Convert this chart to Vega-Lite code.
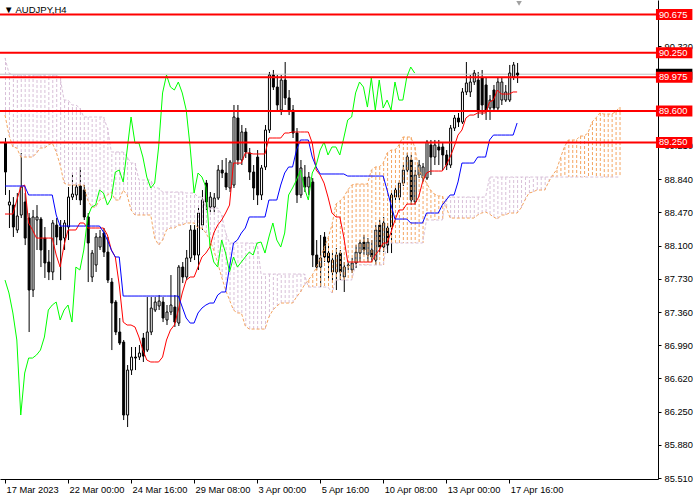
{
  "$schema": "https://vega.github.io/schema/vega-lite/v6.json",
  "width": 658,
  "height": 479,
  "autosize": {"type": "none"},
  "padding": {"left": 0, "top": 0, "right": 42, "bottom": 21},
  "background": "white",
  "title": {
    "text": "▼ AUDJPY,H4",
    "anchor": "start",
    "frame": "group",
    "offset": -14,
    "dx": 4,
    "font": "Liberation Sans",
    "fontSize": 9.5,
    "fontWeight": "normal",
    "color": "#000000"
  },
  "config": {
    "view": {"stroke": null},
    "axis": {
      "labelFont": "Liberation Sans",
      "labelFontSize": 9.3,
      "labelColor": "#000000",
      "domainColor": "#000000",
      "tickColor": "#000000",
      "grid": false
    }
  },
  "resolve": {"axis": {"x": "independent", "y": "independent"}},
  "datasets": {
    "bars": [
      {"i":0,"o":89.243,"h":89.299,"l":88.664,"c":88.920,"tk":88.452,"kj":88.764},
      {"i":1,"o":88.552,"h":88.719,"l":88.296,"c":88.586,"tk":88.452,"kj":88.764},
      {"i":2,"o":88.552,"h":88.641,"l":88.196,"c":88.307,"tk":88.452,"kj":88.764},
      {"i":3,"o":88.274,"h":88.686,"l":88.240,"c":88.430,"tk":88.608,"kj":88.764},
      {"i":4,"o":88.441,"h":89.132,"l":88.407,"c":88.753,"tk":88.753,"kj":88.764},
      {"i":5,"o":88.586,"h":88.686,"l":88.106,"c":88.184,"tk":88.775,"kj":88.764},
      {"i":6,"o":88.407,"h":88.463,"l":87.137,"c":87.605,"tk":88.352,"kj":88.664},
      {"i":7,"o":87.605,"h":88.497,"l":87.527,"c":88.419,"tk":88.274,"kj":88.664},
      {"i":8,"o":88.385,"h":88.552,"l":88.051,"c":88.419,"tk":88.184,"kj":88.664},
      {"i":9,"o":88.396,"h":88.419,"l":87.861,"c":88.051,"tk":88.184,"kj":88.664},
      {"i":10,"o":88.184,"h":88.307,"l":87.739,"c":87.906,"tk":88.184,"kj":88.664},
      {"i":11,"o":87.917,"h":88.051,"l":87.716,"c":87.806,"tk":88.184,"kj":88.664},
      {"i":12,"o":87.806,"h":88.385,"l":87.716,"c":88.352,"tk":88.184,"kj":88.664},
      {"i":13,"o":88.329,"h":88.407,"l":88.106,"c":88.196,"tk":87.995,"kj":88.441},
      {"i":14,"o":88.307,"h":88.385,"l":87.716,"c":88.162,"tk":87.861,"kj":88.318},
      {"i":15,"o":88.184,"h":88.385,"l":88.051,"c":88.352,"tk":88.106,"kj":88.318},
      {"i":16,"o":88.307,"h":88.753,"l":88.162,"c":88.641,"tk":88.274,"kj":88.318},
      {"i":17,"o":88.641,"h":88.909,"l":88.608,"c":88.675,"tk":88.274,"kj":88.318},
      {"i":18,"o":88.664,"h":88.797,"l":88.608,"c":88.753,"tk":88.274,"kj":88.318},
      {"i":19,"o":88.764,"h":88.976,"l":88.552,"c":88.608,"tk":88.352,"kj":88.318},
      {"i":20,"o":88.719,"h":88.775,"l":88.385,"c":88.419,"tk":88.352,"kj":88.318},
      {"i":21,"o":88.419,"h":88.463,"l":87.694,"c":88.129,"tk":88.296,"kj":88.318},
      {"i":22,"o":87.750,"h":88.051,"l":87.694,"c":88.017,"tk":88.296,"kj":88.318},
      {"i":23,"o":87.884,"h":88.240,"l":87.806,"c":88.196,"tk":88.296,"kj":88.318},
      {"i":24,"o":88.084,"h":88.274,"l":88.051,"c":88.196,"tk":88.296,"kj":88.318},
      {"i":25,"o":88.240,"h":88.296,"l":87.973,"c":88.028,"tk":88.296,"kj":88.251},
      {"i":26,"o":88.028,"h":88.196,"l":87.683,"c":87.716,"tk":88.218,"kj":88.162},
      {"i":27,"o":87.694,"h":87.739,"l":86.936,"c":87.460,"tk":88.051,"kj":88.051},
      {"i":28,"o":87.471,"h":87.493,"l":87.103,"c":87.137,"tk":87.973,"kj":87.973},
      {"i":29,"o":87.137,"h":87.293,"l":86.992,"c":87.014,"tk":87.661,"kj":87.973},
      {"i":30,"o":87.025,"h":87.048,"l":86.156,"c":86.212,"tk":87.248,"kj":87.538},
      {"i":31,"o":86.212,"h":86.769,"l":86.078,"c":86.713,"tk":87.215,"kj":87.538},
      {"i":32,"o":86.713,"h":86.970,"l":86.658,"c":86.858,"tk":87.215,"kj":87.538},
      {"i":33,"o":86.858,"h":86.970,"l":86.713,"c":86.847,"tk":87.193,"kj":87.538},
      {"i":34,"o":86.858,"h":86.992,"l":86.825,"c":86.903,"tk":87.081,"kj":87.538},
      {"i":35,"o":87.070,"h":87.126,"l":86.803,"c":86.869,"tk":86.936,"kj":87.538},
      {"i":36,"o":86.936,"h":87.527,"l":86.914,"c":87.137,"tk":86.825,"kj":87.538},
      {"i":37,"o":87.137,"h":87.527,"l":87.103,"c":87.404,"tk":86.803,"kj":87.538},
      {"i":38,"o":87.382,"h":87.527,"l":87.360,"c":87.471,"tk":86.803,"kj":87.538},
      {"i":39,"o":87.427,"h":87.549,"l":87.382,"c":87.482,"tk":86.803,"kj":87.538},
      {"i":40,"o":87.471,"h":87.527,"l":87.248,"c":87.293,"tk":86.858,"kj":87.538},
      {"i":41,"o":87.271,"h":87.438,"l":87.215,"c":87.360,"tk":87.048,"kj":87.538},
      {"i":42,"o":87.360,"h":87.772,"l":87.326,"c":87.438,"tk":87.159,"kj":87.538},
      {"i":43,"o":87.415,"h":87.549,"l":87.193,"c":87.248,"tk":87.215,"kj":87.538},
      {"i":44,"o":87.237,"h":87.884,"l":87.204,"c":87.861,"tk":87.382,"kj":87.538},
      {"i":45,"o":87.861,"h":87.917,"l":87.683,"c":87.750,"tk":87.572,"kj":87.415},
      {"i":46,"o":87.750,"h":88.051,"l":87.716,"c":87.962,"tk":87.716,"kj":87.293},
      {"i":47,"o":87.962,"h":88.329,"l":87.917,"c":88.274,"tk":87.750,"kj":87.237},
      {"i":48,"o":88.274,"h":88.329,"l":87.939,"c":87.995,"tk":87.750,"kj":87.237},
      {"i":49,"o":87.995,"h":88.519,"l":87.828,"c":88.463,"tk":87.861,"kj":87.349},
      {"i":50,"o":88.329,"h":88.719,"l":88.274,"c":88.608,"tk":87.973,"kj":87.404},
      {"i":51,"o":88.797,"h":88.831,"l":88.497,"c":88.586,"tk":88.017,"kj":87.438},
      {"i":52,"o":88.530,"h":88.697,"l":88.474,"c":88.641,"tk":88.084,"kj":87.460},
      {"i":53,"o":88.530,"h":88.686,"l":88.474,"c":88.630,"tk":88.240,"kj":87.460},
      {"i":54,"o":88.630,"h":88.998,"l":88.608,"c":88.942,"tk":88.329,"kj":87.549},
      {"i":55,"o":88.942,"h":89.054,"l":88.853,"c":88.909,"tk":88.385,"kj":87.583},
      {"i":56,"o":88.909,"h":89.076,"l":88.719,"c":88.753,"tk":88.463,"kj":87.583},
      {"i":57,"o":88.742,"h":89.054,"l":88.697,"c":89.032,"tk":88.552,"kj":87.861},
      {"i":58,"o":88.775,"h":89.667,"l":88.742,"c":89.533,"tk":89.020,"kj":88.129},
      {"i":59,"o":89.522,"h":89.667,"l":88.998,"c":89.054,"tk":89.020,"kj":88.162},
      {"i":60,"o":89.054,"h":89.444,"l":88.998,"c":89.366,"tk":89.020,"kj":88.240},
      {"i":61,"o":89.366,"h":89.410,"l":89.076,"c":89.143,"tk":89.132,"kj":88.296},
      {"i":62,"o":89.132,"h":89.188,"l":88.831,"c":88.920,"tk":89.132,"kj":88.419},
      {"i":63,"o":88.920,"h":88.998,"l":88.608,"c":88.742,"tk":89.121,"kj":88.419},
      {"i":64,"o":89.087,"h":89.165,"l":88.552,"c":88.664,"tk":89.121,"kj":88.419},
      {"i":65,"o":88.664,"h":88.998,"l":88.608,"c":88.965,"tk":89.121,"kj":88.419},
      {"i":66,"o":88.976,"h":89.444,"l":88.942,"c":89.388,"tk":89.121,"kj":88.419},
      {"i":67,"o":89.388,"h":90.035,"l":89.355,"c":90.001,"tk":89.299,"kj":88.608},
      {"i":68,"o":90.001,"h":90.057,"l":89.834,"c":89.867,"tk":89.299,"kj":88.608},
      {"i":69,"o":89.867,"h":90.001,"l":89.611,"c":89.667,"tk":89.299,"kj":88.608},
      {"i":70,"o":89.611,"h":90.001,"l":89.555,"c":89.945,"tk":89.299,"kj":88.775},
      {"i":71,"o":89.945,"h":90.146,"l":89.667,"c":89.745,"tk":89.355,"kj":88.909},
      {"i":72,"o":89.745,"h":89.834,"l":89.555,"c":89.611,"tk":89.355,"kj":88.976},
      {"i":73,"o":89.611,"h":89.667,"l":89.299,"c":89.355,"tk":89.366,"kj":88.976},
      {"i":74,"o":89.355,"h":89.410,"l":88.575,"c":88.664,"tk":89.366,"kj":89.165},
      {"i":75,"o":88.664,"h":89.054,"l":88.630,"c":88.965,"tk":89.366,"kj":89.277},
      {"i":76,"o":88.864,"h":88.998,"l":88.697,"c":88.753,"tk":89.366,"kj":89.277},
      {"i":77,"o":88.753,"h":88.920,"l":88.664,"c":88.864,"tk":89.366,"kj":89.277},
      {"i":78,"o":88.809,"h":88.853,"l":87.861,"c":87.995,"tk":89.243,"kj":89.087},
      {"i":79,"o":87.995,"h":88.162,"l":87.828,"c":87.861,"tk":88.942,"kj":88.976},
      {"i":80,"o":87.861,"h":88.218,"l":87.638,"c":87.962,"tk":88.887,"kj":88.898},
      {"i":81,"o":88.196,"h":88.251,"l":87.917,"c":87.973,"tk":88.797,"kj":88.898},
      {"i":82,"o":88.017,"h":88.106,"l":87.716,"c":87.917,"tk":88.641,"kj":88.898},
      {"i":83,"o":87.806,"h":88.017,"l":87.683,"c":87.939,"tk":88.463,"kj":88.898},
      {"i":84,"o":87.806,"h":88.073,"l":87.605,"c":87.995,"tk":88.419,"kj":88.898},
      {"i":85,"o":88.017,"h":88.051,"l":87.716,"c":87.806,"tk":88.419,"kj":88.898},
      {"i":86,"o":87.750,"h":87.917,"l":87.583,"c":87.861,"tk":88.196,"kj":88.898},
      {"i":87,"o":87.884,"h":87.917,"l":87.828,"c":87.878,"tk":87.917,"kj":88.875},
      {"i":88,"o":87.828,"h":87.962,"l":87.794,"c":87.906,"tk":87.917,"kj":88.875},
      {"i":89,"o":87.906,"h":88.106,"l":87.850,"c":88.028,"tk":87.917,"kj":88.875},
      {"i":90,"o":88.017,"h":88.162,"l":87.917,"c":88.129,"tk":87.917,"kj":88.875},
      {"i":91,"o":88.140,"h":88.218,"l":87.995,"c":88.051,"tk":87.917,"kj":88.875},
      {"i":92,"o":87.995,"h":88.184,"l":87.917,"c":88.140,"tk":87.917,"kj":88.875},
      {"i":93,"o":88.051,"h":88.162,"l":87.917,"c":87.973,"tk":87.917,"kj":88.875},
      {"i":94,"o":87.939,"h":88.329,"l":87.884,"c":88.274,"tk":87.995,"kj":88.875},
      {"i":95,"o":88.329,"h":88.385,"l":88.028,"c":88.084,"tk":88.051,"kj":88.875},
      {"i":96,"o":88.084,"h":88.419,"l":88.028,"c":88.352,"tk":88.129,"kj":88.875},
      {"i":97,"o":88.296,"h":88.352,"l":88.017,"c":88.106,"tk":88.129,"kj":88.719},
      {"i":98,"o":88.307,"h":88.719,"l":88.017,"c":88.664,"tk":88.251,"kj":88.552},
      {"i":99,"o":88.641,"h":88.753,"l":88.608,"c":88.719,"tk":88.385,"kj":88.396},
      {"i":100,"o":88.641,"h":88.831,"l":88.608,"c":88.797,"tk":88.497,"kj":88.396},
      {"i":101,"o":88.797,"h":88.998,"l":88.764,"c":88.942,"tk":88.497,"kj":88.396},
      {"i":102,"o":88.942,"h":89.132,"l":88.920,"c":89.087,"tk":88.563,"kj":88.396},
      {"i":103,"o":89.054,"h":89.110,"l":88.552,"c":88.608,"tk":88.563,"kj":88.352},
      {"i":104,"o":88.586,"h":88.942,"l":88.552,"c":88.887,"tk":88.563,"kj":88.352},
      {"i":105,"o":88.887,"h":89.054,"l":88.853,"c":88.998,"tk":88.641,"kj":88.352},
      {"i":106,"o":88.853,"h":89.020,"l":88.809,"c":88.976,"tk":88.809,"kj":88.352},
      {"i":107,"o":88.853,"h":89.277,"l":88.831,"c":89.254,"tk":88.909,"kj":88.463},
      {"i":108,"o":89.221,"h":89.277,"l":88.887,"c":89.087,"tk":88.931,"kj":88.463},
      {"i":109,"o":89.087,"h":89.277,"l":88.998,"c":89.221,"tk":88.931,"kj":88.463},
      {"i":110,"o":89.199,"h":89.277,"l":88.998,"c":89.165,"tk":88.931,"kj":88.463},
      {"i":111,"o":89.199,"h":89.243,"l":88.942,"c":89.110,"tk":88.931,"kj":88.552},
      {"i":112,"o":89.110,"h":89.165,"l":88.942,"c":88.998,"tk":88.998,"kj":88.608},
      {"i":113,"o":88.998,"h":89.444,"l":88.965,"c":89.410,"tk":89.087,"kj":88.664},
      {"i":114,"o":89.410,"h":89.555,"l":89.377,"c":89.522,"tk":89.199,"kj":88.664},
      {"i":115,"o":89.522,"h":89.578,"l":89.422,"c":89.477,"tk":89.332,"kj":88.809},
      {"i":116,"o":89.477,"h":89.856,"l":89.455,"c":89.812,"tk":89.388,"kj":89.020},
      {"i":117,"o":89.812,"h":90.146,"l":89.778,"c":89.912,"tk":89.522,"kj":89.020},
      {"i":118,"o":89.812,"h":90.001,"l":89.756,"c":89.923,"tk":89.555,"kj":89.020},
      {"i":119,"o":89.923,"h":90.057,"l":89.890,"c":90.023,"tk":89.555,"kj":89.020},
      {"i":120,"o":89.945,"h":90.035,"l":89.522,"c":89.611,"tk":89.578,"kj":89.087},
      {"i":121,"o":89.968,"h":90.057,"l":89.555,"c":89.667,"tk":89.578,"kj":89.087},
      {"i":122,"o":89.890,"h":89.968,"l":89.500,"c":89.611,"tk":89.578,"kj":89.087},
      {"i":123,"o":89.633,"h":89.778,"l":89.500,"c":89.722,"tk":89.700,"kj":89.277},
      {"i":124,"o":89.834,"h":89.890,"l":89.589,"c":89.633,"tk":89.722,"kj":89.332},
      {"i":125,"o":89.633,"h":89.968,"l":89.611,"c":89.923,"tk":89.834,"kj":89.332},
      {"i":126,"o":89.722,"h":89.968,"l":89.667,"c":89.923,"tk":89.789,"kj":89.332},
      {"i":127,"o":89.722,"h":89.890,"l":89.700,"c":89.812,"tk":89.789,"kj":89.332},
      {"i":128,"o":89.722,"h":90.113,"l":89.700,"c":90.023,"tk":89.789,"kj":89.332},
      {"i":129,"o":89.979,"h":90.146,"l":89.945,"c":90.113,"tk":89.812,"kj":89.332},
      {"i":130,"o":90.023,"h":90.135,"l":89.912,"c":90.001,"tk":89.812,"kj":89.466}
    ],
    "chikou": [
      {"i":0,"v":87.716},{"i":1,"v":87.572},{"i":2,"v":87.349},{"i":3,"v":87.048},{"i":4,"v":86.212},
      {"i":5,"v":86.680},{"i":6,"v":86.847},{"i":7,"v":86.847},{"i":8,"v":86.881},{"i":9,"v":86.936},
      {"i":10,"v":87.081},{"i":11,"v":87.382},{"i":12,"v":87.438},{"i":13,"v":87.471},{"i":14,"v":87.271},
      {"i":15,"v":87.382},{"i":16,"v":87.438},{"i":17,"v":87.248},{"i":18,"v":87.861},{"i":19,"v":87.828},
      {"i":20,"v":88.051},{"i":21,"v":88.419},{"i":22,"v":88.530},{"i":23,"v":88.552},{"i":24,"v":88.719},
      {"i":25,"v":88.686},{"i":26,"v":88.552},{"i":27,"v":88.630},{"i":28,"v":88.920},{"i":29,"v":88.942},
      {"i":30,"v":88.809},{"i":31,"v":89.165},{"i":32,"v":89.533},{"i":33,"v":89.243},{"i":34,"v":89.243},
      {"i":35,"v":89.087},{"i":36,"v":88.864},{"i":37,"v":88.742},{"i":38,"v":88.797},{"i":39,"v":89.199},
      {"i":40,"v":89.801},{"i":41,"v":90.001},{"i":42,"v":89.867},{"i":43,"v":89.834},{"i":44,"v":89.923},
      {"i":45,"v":89.801},{"i":46,"v":89.611},{"i":47,"v":89.199},{"i":48,"v":88.686},{"i":49,"v":88.909},
      {"i":50,"v":88.864},{"i":51,"v":88.753},{"i":52,"v":88.106},{"i":53,"v":87.917},{"i":54,"v":87.861},
      {"i":55,"v":88.162},{"i":56,"v":88.017},{"i":57,"v":87.806},{"i":58,"v":87.973},{"i":59,"v":87.861},
      {"i":60,"v":87.917},{"i":61,"v":87.973},{"i":62,"v":88.028},{"i":63,"v":87.995},{"i":64,"v":88.129},
      {"i":65,"v":88.140},{"i":66,"v":88.017},{"i":67,"v":88.196},{"i":68,"v":88.352},{"i":69,"v":88.162},
      {"i":70,"v":88.084},{"i":71,"v":88.240},{"i":72,"v":88.664},{"i":73,"v":88.742},{"i":74,"v":88.831},
      {"i":75,"v":88.942},{"i":76,"v":88.742},{"i":77,"v":88.608},{"i":78,"v":88.909},{"i":79,"v":88.998},
      {"i":80,"v":89.165},{"i":81,"v":89.254},{"i":82,"v":89.110},{"i":83,"v":89.199},{"i":84,"v":89.199},
      {"i":85,"v":89.110},{"i":86,"v":89.299},{"i":87,"v":89.500},{"i":88,"v":89.533},{"i":89,"v":89.801},
      {"i":90,"v":89.923},{"i":91,"v":89.867},{"i":92,"v":89.644},{"i":93,"v":89.968},{"i":94,"v":89.611},
      {"i":95,"v":89.945},{"i":96,"v":89.633},{"i":97,"v":89.722},{"i":98,"v":89.611},{"i":99,"v":89.923},
      {"i":100,"v":89.722},{"i":101,"v":89.722},{"i":102,"v":89.979},{"i":103,"v":90.090},{"i":104,"v":90.023}
    ],
    "cloud": [
      {"i":0,"a":89.555,"b":90.191},{"i":1,"a":89.332,"b":90.023},{"i":2,"a":89.199,"b":90.001},{"i":3,"a":89.188,"b":90.001},
      {"i":4,"a":89.087,"b":90.001},{"i":5,"a":89.087,"b":90.001},{"i":6,"a":89.087,"b":90.001},{"i":7,"a":89.087,"b":90.001},
      {"i":8,"a":89.132,"b":90.001},{"i":9,"a":89.188,"b":90.001},{"i":10,"a":89.188,"b":90.001},{"i":11,"a":89.221,"b":90.001},
      {"i":12,"a":89.243,"b":90.001},{"i":13,"a":89.143,"b":90.001},{"i":14,"a":88.998,"b":89.968},{"i":15,"a":88.797,"b":89.722},
      {"i":16,"a":88.775,"b":89.722},{"i":17,"a":88.775,"b":89.667},{"i":18,"a":88.775,"b":89.667},{"i":19,"a":88.775,"b":89.633},
      {"i":20,"a":88.775,"b":89.533},{"i":21,"a":88.608,"b":89.533},{"i":22,"a":88.530,"b":89.533},{"i":23,"a":88.530,"b":89.533},
      {"i":24,"a":88.608,"b":89.533},{"i":25,"a":88.630,"b":89.533},{"i":26,"a":88.664,"b":89.410},{"i":27,"a":88.697,"b":89.143},
      {"i":28,"a":88.608,"b":89.143},{"i":29,"a":88.608,"b":89.143},{"i":30,"a":88.719,"b":89.143},{"i":31,"a":88.664,"b":89.087},
      {"i":32,"a":88.497,"b":89.020},{"i":33,"a":88.441,"b":89.020},{"i":34,"a":88.441,"b":88.831},{"i":35,"a":88.441,"b":88.831},
      {"i":36,"a":88.441,"b":88.831},{"i":37,"a":88.441,"b":88.831},{"i":38,"a":88.184,"b":88.742},{"i":39,"a":88.106,"b":88.742},
      {"i":40,"a":88.162,"b":88.697},{"i":41,"a":88.274,"b":88.697},{"i":42,"a":88.296,"b":88.697},{"i":43,"a":88.296,"b":88.697},
      {"i":44,"a":88.329,"b":88.697},{"i":45,"a":88.329,"b":88.697},{"i":46,"a":88.352,"b":88.686},{"i":47,"a":88.352,"b":88.686},
      {"i":48,"a":88.352,"b":88.686},{"i":49,"a":88.296,"b":88.641},{"i":50,"a":88.296,"b":88.641},{"i":51,"a":88.240,"b":88.519},
      {"i":52,"a":88.162,"b":88.519},{"i":53,"a":88.051,"b":88.519},{"i":54,"a":87.906,"b":88.519},{"i":55,"a":87.750,"b":88.441},
      {"i":56,"a":87.605,"b":88.240},{"i":57,"a":87.493,"b":88.129},{"i":58,"a":87.382,"b":88.129},{"i":59,"a":87.349,"b":88.129},
      {"i":60,"a":87.349,"b":88.129},{"i":61,"a":87.204,"b":88.129},{"i":62,"a":87.170,"b":88.129},{"i":63,"a":87.170,"b":88.129},
      {"i":64,"a":87.170,"b":88.129},{"i":65,"a":87.170,"b":87.783},{"i":66,"a":87.170,"b":87.783},{"i":67,"a":87.304,"b":87.783},
      {"i":68,"a":87.382,"b":87.783},{"i":69,"a":87.427,"b":87.783},{"i":70,"a":87.460,"b":87.783},{"i":71,"a":87.460,"b":87.783},
      {"i":72,"a":87.460,"b":87.783},{"i":73,"a":87.460,"b":87.783},{"i":74,"a":87.527,"b":87.783},{"i":75,"a":87.583,"b":87.783},
      {"i":76,"a":87.661,"b":87.783},{"i":77,"a":87.716,"b":87.638},{"i":78,"a":87.772,"b":87.638},{"i":79,"a":87.850,"b":87.638},
      {"i":80,"a":87.962,"b":87.638},{"i":81,"a":88.073,"b":87.638},{"i":82,"a":88.184,"b":87.638},{"i":83,"a":88.329,"b":87.572},
      {"i":84,"a":88.563,"b":87.716},{"i":85,"a":88.597,"b":87.716},{"i":86,"a":88.641,"b":87.716},{"i":87,"a":88.719,"b":87.716},
      {"i":88,"a":88.775,"b":87.716},{"i":89,"a":88.786,"b":87.884},{"i":90,"a":88.786,"b":87.884},{"i":91,"a":88.786,"b":87.884},
      {"i":92,"a":88.786,"b":87.884},{"i":93,"a":88.942,"b":87.884},{"i":94,"a":88.976,"b":87.884},{"i":95,"a":88.976,"b":87.884},
      {"i":96,"a":89.020,"b":87.884},{"i":97,"a":89.132,"b":88.129},{"i":98,"a":89.165,"b":88.129},{"i":99,"a":89.165,"b":88.129},
      {"i":100,"a":89.221,"b":88.129},{"i":101,"a":89.310,"b":88.129},{"i":102,"a":89.310,"b":88.129},{"i":103,"a":89.310,"b":88.129},
      {"i":104,"a":89.199,"b":88.129},{"i":105,"a":88.953,"b":88.129},{"i":106,"a":88.875,"b":88.129},{"i":107,"a":88.797,"b":88.385},
      {"i":108,"a":88.719,"b":88.385},{"i":109,"a":88.675,"b":88.385},{"i":110,"a":88.653,"b":88.385},{"i":111,"a":88.653,"b":88.385},
      {"i":112,"a":88.530,"b":88.641},{"i":113,"a":88.407,"b":88.641},{"i":114,"a":88.407,"b":88.641},{"i":115,"a":88.407,"b":88.641},
      {"i":116,"a":88.407,"b":88.641},{"i":117,"a":88.407,"b":88.641},{"i":118,"a":88.407,"b":88.641},{"i":119,"a":88.407,"b":88.641},
      {"i":120,"a":88.441,"b":88.641},{"i":121,"a":88.463,"b":88.641},{"i":122,"a":88.474,"b":88.641},{"i":123,"a":88.452,"b":88.864},
      {"i":124,"a":88.419,"b":88.864},{"i":125,"a":88.396,"b":88.864},{"i":126,"a":88.441,"b":88.864},{"i":127,"a":88.441,"b":88.864},
      {"i":128,"a":88.463,"b":88.864},{"i":129,"a":88.463,"b":88.864},{"i":130,"a":88.463,"b":88.864},{"i":131,"a":88.519,"b":88.864},
      {"i":132,"a":88.608,"b":88.864},{"i":133,"a":88.686,"b":88.864},{"i":134,"a":88.697,"b":88.864},{"i":135,"a":88.719,"b":88.864},
      {"i":136,"a":88.719,"b":88.864},{"i":137,"a":88.719,"b":88.864},{"i":138,"a":88.809,"b":88.864},{"i":139,"a":88.887,"b":88.864},
      {"i":140,"a":88.942,"b":88.864},{"i":141,"a":89.076,"b":88.864},{"i":142,"a":89.199,"b":88.864},{"i":143,"a":89.277,"b":88.864},
      {"i":144,"a":89.277,"b":88.864},{"i":145,"a":89.277,"b":88.864},{"i":146,"a":89.321,"b":88.864},{"i":147,"a":89.321,"b":88.864},
      {"i":148,"a":89.355,"b":88.864},{"i":149,"a":89.477,"b":88.864},{"i":150,"a":89.522,"b":88.864},{"i":151,"a":89.578,"b":88.864},
      {"i":152,"a":89.566,"b":88.864},{"i":153,"a":89.566,"b":88.864},{"i":154,"a":89.566,"b":88.864},{"i":155,"a":89.589,"b":88.864},
      {"i":156,"a":89.644,"b":88.864}
    ],
    "levels": [{"p": 90.675}, {"p": 90.25}, {"p": 89.975}, {"p": 89.6}, {"p": 89.25}],
    "bid": [{"p": 90.01}],
    "shift": [{"name": "shift"}]
  },
  "layer": [
    {
      "data": {"name": "bars"},
      "mark": {"type": "rule", "color": "#000000", "strokeWidth": 1, "xOffset": 0.5},
      "encoding": {
        "x": {
          "field": "i",
          "type": "quantitative",
          "title": null,
          "scale": {"domain": [0, 164.5], "nice": false, "zero": false},
          "axis": {
            "orient": "bottom",
            "values": [0, 16, 32, 48, 64, 80, 96, 112, 128],
            "labelExpr": "['17 Mar 2023','22 Mar 00:00','24 Mar 16:00','29 Mar 08:00','3 Apr 00:00','5 Apr 16:00','10 Apr 08:00','13 Apr 00:00','17 Apr 16:00'][round(datum.value / 16)]",
            "labelAlign": "left",
            "labelOffset": 1,
            "labelPadding": 2,
            "tickSize": 4,
            "labelFlush": false,
            "labelOverlap": false,
            "title": null
          }
        },
        "y": {
          "field": "l",
          "type": "quantitative",
          "title": null,
          "scale": {"domain": [85.499, 90.837], "nice": false, "zero": false},
          "axis": {
            "orient": "right",
            "values": [85.51, 85.88, 86.25, 86.62, 86.99, 87.36, 87.73, 88.1, 88.47, 88.84, 89.21, 90.32],
            "format": ".3f",
            "tickSize": 3,
            "labelPadding": 3,
            "labelAlign": "left",
            "labelBaseline": "middle",
            "labelFlush": false,
            "labelOverlap": false,
            "title": null
          }
        },
        "y2": {"field": "h"}
      }
    },
    {
      "data": {"name": "bid"},
      "mark": {"type": "rule", "color": "#C0C0C0", "strokeWidth": 1},
      "encoding": {
        "y": {"field": "p", "type": "quantitative", "scale": {"domain": [85.499, 90.837], "nice": false, "zero": false}, "axis": null}
      }
    },
    {
      "data": {"name": "bars"},
      "mark": {"type": "bar", "width": 2, "stroke": "#000000", "strokeWidth": 1, "xOffset": 0.5},
      "encoding": {
        "x": {"field": "i", "type": "quantitative", "scale": {"domain": [0, 164.5], "nice": false, "zero": false}, "axis": null},
        "y": {"field": "o", "type": "quantitative", "scale": {"domain": [85.499, 90.837], "nice": false, "zero": false}, "axis": null},
        "y2": {"field": "c"},
        "fill": {"condition": {"test": "datum.c < datum.o", "value": "#000000"}, "value": "#FFFFFF"}
      }
    },
    {
      "data": {"name": "cloud"},
      "mark": {"type": "rule", "strokeWidth": 1, "strokeDash": [3, 2], "xOffset": 0.5},
      "encoding": {
        "x": {"field": "i", "type": "quantitative", "scale": {"domain": [0, 164.5], "nice": false, "zero": false}, "axis": null},
        "y": {"field": "a", "type": "quantitative", "scale": {"domain": [85.499, 90.837], "nice": false, "zero": false}, "axis": null},
        "y2": {"field": "b"},
        "color": {"condition": {"test": "datum.a >= datum.b", "value": "#F4A460"}, "value": "#D8BFD8"}
      }
    },
    {
      "data": {"name": "cloud"},
      "mark": {"type": "line", "color": "#F4A460", "strokeWidth": 1, "strokeDash": [3, 2]},
      "encoding": {
        "x": {"field": "i", "type": "quantitative", "scale": {"domain": [0, 164.5], "nice": false, "zero": false}, "axis": null},
        "y": {"field": "a", "type": "quantitative", "scale": {"domain": [85.499, 90.837], "nice": false, "zero": false}, "axis": null}
      }
    },
    {
      "data": {"name": "cloud"},
      "mark": {"type": "line", "color": "#D8BFD8", "strokeWidth": 1, "strokeDash": [3, 2]},
      "encoding": {
        "x": {"field": "i", "type": "quantitative", "scale": {"domain": [0, 164.5], "nice": false, "zero": false}, "axis": null},
        "y": {"field": "b", "type": "quantitative", "scale": {"domain": [85.499, 90.837], "nice": false, "zero": false}, "axis": null}
      }
    },
    {
      "data": {"name": "bars"},
      "mark": {"type": "line", "color": "#FF0000", "strokeWidth": 1},
      "encoding": {
        "x": {"field": "i", "type": "quantitative", "scale": {"domain": [0, 164.5], "nice": false, "zero": false}, "axis": null},
        "y": {"field": "tk", "type": "quantitative", "scale": {"domain": [85.499, 90.837], "nice": false, "zero": false}, "axis": null}
      }
    },
    {
      "data": {"name": "bars"},
      "mark": {"type": "line", "color": "#0000FF", "strokeWidth": 1},
      "encoding": {
        "x": {"field": "i", "type": "quantitative", "scale": {"domain": [0, 164.5], "nice": false, "zero": false}, "axis": null},
        "y": {"field": "kj", "type": "quantitative", "scale": {"domain": [85.499, 90.837], "nice": false, "zero": false}, "axis": null}
      }
    },
    {
      "data": {"name": "chikou"},
      "mark": {"type": "line", "color": "#00FF00", "strokeWidth": 1},
      "encoding": {
        "x": {"field": "i", "type": "quantitative", "scale": {"domain": [0, 164.5], "nice": false, "zero": false}, "axis": null},
        "y": {"field": "v", "type": "quantitative", "scale": {"domain": [85.499, 90.837], "nice": false, "zero": false}, "axis": null}
      }
    },
    {
      "data": {"name": "levels"},
      "mark": {"type": "rule", "color": "#FF0000", "strokeWidth": 2},
      "encoding": {
        "y": {"field": "p", "type": "quantitative", "scale": {"domain": [85.499, 90.837], "nice": false, "zero": false}, "axis": null}
      }
    },
    {
      "data": {"name": "bid"},
      "mark": {"type": "rect", "height": 11, "color": "#000000"},
      "encoding": {
        "x": {"datum": 165.25, "type": "quantitative", "scale": {"domain": [0, 164.5], "nice": false, "zero": false}, "axis": null},
        "x2": {"datum": 174.5},
        "y": {"field": "p", "type": "quantitative", "scale": {"domain": [85.499, 90.837], "nice": false, "zero": false}, "axis": null}
      }
    },
    {
      "data": {"name": "levels"},
      "mark": {"type": "rect", "height": 11, "color": "#FF0000"},
      "encoding": {
        "x": {"datum": 165.25, "type": "quantitative", "scale": {"domain": [0, 164.5], "nice": false, "zero": false}, "axis": null},
        "x2": {"datum": 174.5},
        "y": {"field": "p", "type": "quantitative", "scale": {"domain": [85.499, 90.837], "nice": false, "zero": false}, "axis": null}
      }
    },
    {
      "data": {"name": "levels"},
      "mark": {"type": "text", "align": "left", "baseline": "middle", "color": "#FFFFFF", "font": "Liberation Sans", "fontSize": 9.3},
      "encoding": {
        "x": {"datum": 166, "type": "quantitative", "scale": {"domain": [0, 164.5], "nice": false, "zero": false}, "axis": null},
        "y": {"field": "p", "type": "quantitative", "scale": {"domain": [85.499, 90.837], "nice": false, "zero": false}, "axis": null},
        "text": {"field": "p", "type": "quantitative", "format": ".3f"}
      }
    },
    {
      "data": {"name": "shift"},
      "mark": {"type": "point", "shape": "triangle-down", "filled": true, "color": "#A0A0A0", "size": 30, "opacity": 1},
      "encoding": {
        "x": {"datum": 130.5, "type": "quantitative", "scale": {"domain": [0, 164.5], "nice": false, "zero": false}, "axis": null},
        "y": {"datum": 90.8, "type": "quantitative", "scale": {"domain": [85.499, 90.837], "nice": false, "zero": false}, "axis": null}
      }
    }
  ]
}
